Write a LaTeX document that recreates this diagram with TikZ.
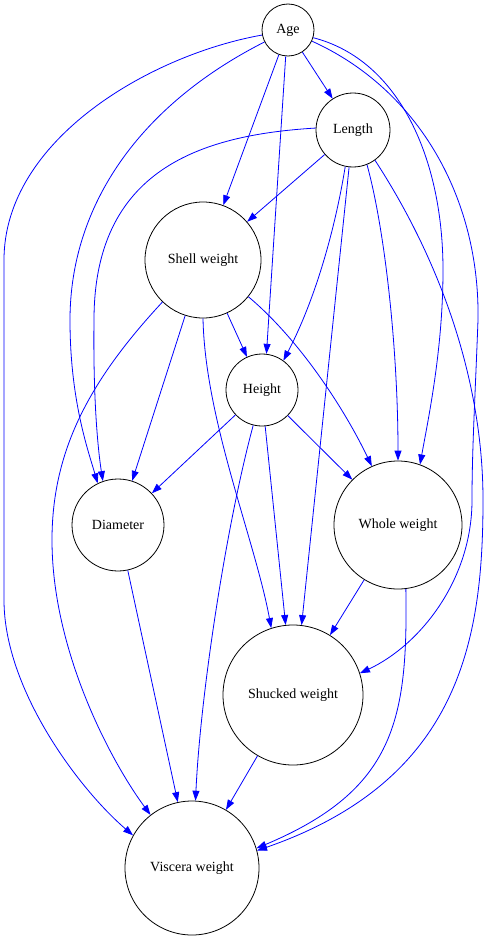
\documentclass[tikz,border=0pt]{standalone}
\usepackage{fontspec}
\setmainfont{Liberation Serif}
\usetikzlibrary{arrows.meta}
\begin{document}
\begin{tikzpicture}[x=1pt,y=-1pt,
  var/.style={circle,draw=black,line width=0.8pt,inner sep=0pt,font=\fontsize{14}{16}\selectfont},
  edge/.style={draw=blue,line width=0.8pt,-{Triangle[length=10pt,width=7pt]},fill=none},
  every path/.append style={}]
\useasboundingbox (0,0) rectangle (488,939);
\node[var,minimum size=52pt]  (age)     at (288,30)  {Age};
\node[var,minimum size=74pt]  (length)  at (353,130) {Length};
\node[var,minimum size=116pt] (shell)   at (203,260) {Shell weight};
\node[var,minimum size=72pt]  (height)  at (262,390) {Height};
\node[var,minimum size=92pt]  (diam)    at (118,525) {Diameter};
\node[var,minimum size=128pt] (whole)   at (398,525) {Whole weight};
\node[var,minimum size=140pt] (shucked) at (293,695) {Shucked weight};
\node[var,minimum size=134pt] (visc)    at (192,868) {Viscera weight};
\tikzset{arr/.style={draw=blue,line width=0.8pt,-{Triangle[length=10pt,width=7pt,blue]}}}
% Age
\draw[arr] (age) -- (length);
\draw[arr] (age) -- (shell);
\draw[arr] (age.265) -- (height.83);
\draw[arr] (age.207) .. controls (140,105) and (70,205) .. (70,320) .. controls (70,400) and (88,450) .. (diam.116);
\draw[arr] (age.191) .. controls (150,55) and (4,140) .. (4,260) -- (4,600) .. controls (4,690) and (80,790) .. (visc.151);
\draw[arr] (age.343) .. controls (400,60) and (443,160) .. (443,270) .. controls (443,350) and (428,420) .. (whole.70);
\draw[arr] (age.335) .. controls (420,90) and (480,200) .. (478,320) .. controls (475,400) and (472,450) .. (472,500) .. controls (472,580) and (420,645) .. (shucked.18);
% Length
\draw[arr] (length.177) .. controls (200,135) and (94,170) .. (94,320) .. controls (93,400) and (98,450) .. (diam.109);
\draw[arr] (length) -- (shell);
\draw[arr] (length.258) .. controls (335,230) and (315,300) .. (height.54);
\draw[arr] (length.264) -- (shucked.83);
\draw[arr] (length.292) .. controls (385,230) and (398,350) .. (whole.90);
\draw[arr] (length.306) .. controls (440,260) and (483,380) .. (483,500) .. controls (483,640) and (460,780) .. (visc.15);
% Shell weight
\draw[arr] (shell.226) .. controls (90,380) and (52,450) .. (52,540) .. controls (52,650) and (110,760) .. (visc.128);
\draw[arr] (shell) -- (diam);
\draw[arr] (shell.270) .. controls (205,420) and (255,540) .. (shucked.108);
\draw[arr] (shell) -- (height);
\draw[arr] (shell.321) .. controls (300,340) and (345,410) .. (whole.114);
% Height
\draw[arr] (height) -- (diam);
\draw[arr] (height.256) .. controls (225,530) and (200,700) .. (visc.87);
\draw[arr] (height.275) -- (shucked.96);
\draw[arr] (height) -- (whole);
% Diameter
\draw[arr] (diam) -- (visc);
% Whole weight
\draw[arr] (whole) -- (shucked);
\draw[arr] (whole.277) .. controls (408,720) and (395,790) .. (visc.17);
% Shucked weight
\draw[arr] (shucked) -- (visc);
\end{tikzpicture}
\end{document}
